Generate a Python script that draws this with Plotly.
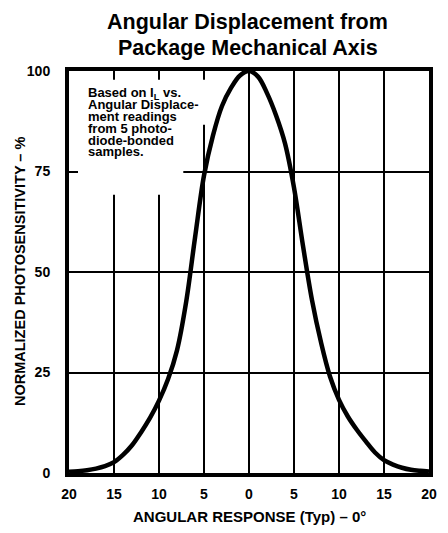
import plotly.graph_objects as go

# Data (angle in degrees, negative = left side)
angle = [-20, -19, -18, -17, -16, -15, -14, -13, -12, -11, -10, -9, -8, -7, -6, -5,
         -4, -3, -2, -1, 0, 1, 2, 3, 4, 5, 6, 7, 8, 9, 10, 11, 12, 13, 14, 15,
         16, 17, 18, 19, 20]
sensitivity = [0.3, 0.45, 0.7, 1.1, 1.7, 2.7, 4.5, 6.9, 10.1, 13.7, 18, 23.3, 30.5, 42.3, 58.5, 74,
               84, 91.3, 95.8, 98.9, 100, 98.6, 94.5, 89, 82, 71, 56.5, 43, 32.5, 24, 18.2,
               14, 10.7, 7.8, 5.1, 3.2, 2.1, 1.3, 0.8, 0.55, 0.4]

x_tickvals = [-20, -15, -10, -5, 0, 5, 10, 15, 20]
x_ticktext = ["20", "15", "10", "5", "0", "5", "10", "15", "20"]
y_tickvals = [0, 25, 50, 75, 100]
y_ticktext = ["0", "25", "50", "75", "100"]

note_lines = ["Based on I<sub>L</sub> vs.", "Angular Displace-", "ment readings",
              "from 5 photo-", "diode-bonded", "samples."]
note_y = [94.5, 91.7, 88.8, 85.8, 82.8, 79.9]

title_lines = ["Angular Displacement from", "Package Mechanical Axis"]
x_title = "ANGULAR RESPONSE (Typ) – 0°"
y_title = "NORMALIZED PHOTOSENSITIVITY – %"

FONT = "Liberation Sans, Arial, sans-serif"

fig = go.Figure()
fig.add_trace(go.Scatter(
    x=angle, y=sensitivity, mode="lines",
    line=dict(color="black", width=4.5, shape="spline", smoothing=1.0),
    hoverinfo="skip", showlegend=False,
))

# white areas behind the note (gridlines interrupted there)
fig.add_shape(type="rect", xref="x", yref="y", x0=-19, x1=-7.3, y0=69.2, y1=97.8,
              fillcolor="white", line=dict(width=0), layer="between")
fig.add_shape(type="rect", xref="x", yref="y", x0=-7.3, x1=-4.6, y0=86.6, y1=97.8,
              fillcolor="white", line=dict(width=0), layer="between")

for txt, yy in zip(note_lines, note_y):
    fig.add_annotation(x=-18.1, y=yy, xref="x", yref="y", text="<b>" + txt + "</b>",
                       showarrow=False, xanchor="left", yanchor="middle",
                       font=dict(family=FONT, size=13, color="black"))

for txt, yy in zip(title_lines, [1.122, 1.056]):
    fig.add_annotation(x=0.497, y=yy, xref="paper", yref="paper", text="<b>" + txt + "</b>",
                       showarrow=False, xanchor="center", yanchor="middle",
                       font=dict(family=FONT, size=21.5, color="black"))

fig.add_annotation(x=0.5, y=-0.109, xref="paper", yref="paper", text="<b>" + x_title + "</b>",
                   showarrow=False, xanchor="center", yanchor="middle",
                   font=dict(family=FONT, size=15, color="black"))
fig.add_annotation(x=-0.136, y=0.5, xref="paper", yref="paper", text="<b>" + y_title + "</b>",
                   showarrow=False, xanchor="center", yanchor="middle", textangle=-90,
                   font=dict(family=FONT, size=14.5, color="black"))

fig.update_xaxes(range=[-20, 20], tickvals=x_tickvals, ticktext=x_ticktext,
                 showgrid=True, gridcolor="black", gridwidth=1.6,
                 showline=True, linecolor="black", linewidth=4, mirror=True,
                 ticks="", ticklabelstandoff=5, zeroline=False,
                 tickfont=dict(family=FONT, size=14, color="black", weight="bold"))
fig.update_yaxes(range=[0, 100], tickvals=y_tickvals, ticktext=y_ticktext,
                 showgrid=True, gridcolor="black", gridwidth=1.6,
                 showline=True, linecolor="black", linewidth=4, mirror=True,
                 ticks="", ticklabelstandoff=12, zeroline=False,
                 tickfont=dict(family=FONT, size=14, color="black", weight="bold"))

# the page body adds an 8px margin, so the figure is sized to fit the window
fig.update_layout(width=440, height=525, margin=dict(l=61, r=11, t=63, b=60),
                  plot_bgcolor="white", paper_bgcolor="white", showlegend=False)

fig.write_html("out.html", config={"displayModeBar": False})
